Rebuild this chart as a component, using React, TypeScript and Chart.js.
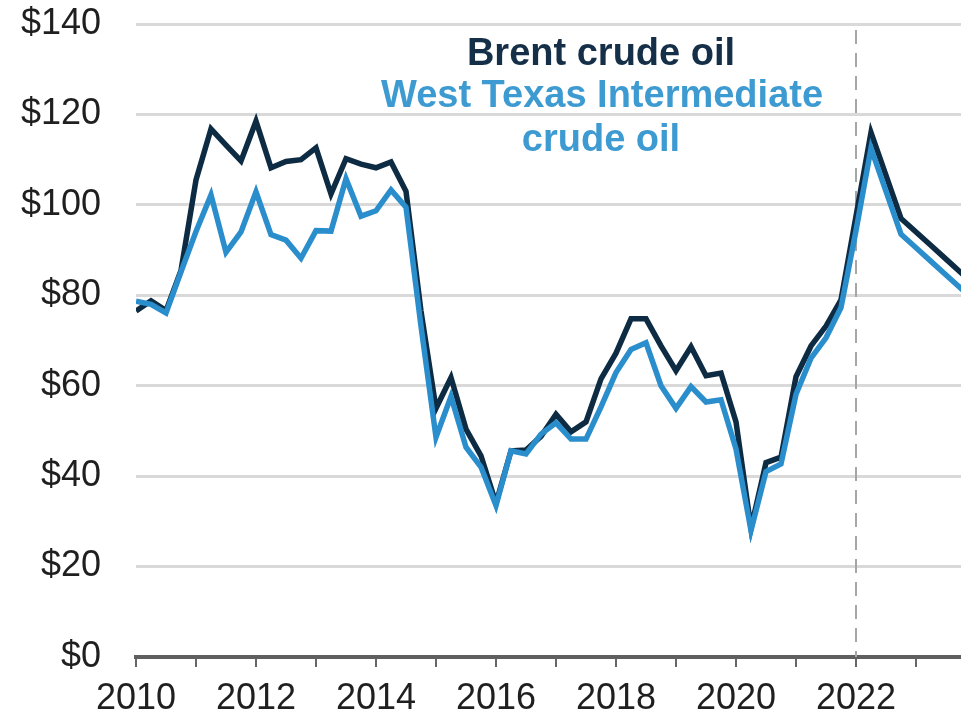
import React, { useEffect, useRef } from "react";
import { Chart, registerables } from "chart.js";

Chart.register(...registerables);

const startYear = 2010;
const quarterStep = 0.25;

const brentPrices = [
  76.5, 78.8, 76.6, 85.5,
  105.5, 116.8, 113.2, 109.7,
  118.5, 108.2, 109.6, 110.0,
  112.6, 102.4, 110.2, 109.0,
  108.2, 109.5, 103.0, 76.5,
  55.0, 61.8, 50.4, 44.5,
  34.0, 45.6, 45.8, 48.8,
  53.7, 49.8, 52.0, 61.5,
  67.2, 74.8, 74.8, 68.8,
  63.3, 68.6, 62.2, 62.8,
  52.0, 28.5, 43.0, 44.2,
  62.0, 68.8, 73.2, 79.0,
  97.5, 116.0, 106.5, 97.0,
  94.0, 91.0, 88.0, 85.0,
  82.0,
];

const wtiPrices = [
  78.7, 78.0, 76.1, 85.2,
  94.1, 102.2, 89.5, 94.0,
  102.9, 93.4, 92.2, 88.2,
  94.3, 94.2, 105.8, 97.5,
  98.7, 103.3, 99.5, 73.2,
  48.6, 57.6, 46.4, 42.0,
  33.5, 45.6, 44.9, 49.3,
  51.8, 48.2, 48.2, 55.3,
  62.9, 68.0, 69.5, 60.0,
  55.0, 59.8, 56.4, 56.9,
  46.0, 28.0, 41.0, 42.7,
  58.1, 66.1, 70.6, 77.3,
  94.3, 112.5, 103.0, 93.5,
  90.5, 87.5, 84.5, 81.5,
  78.5,
];

const yTickValues = [0, 20, 40, 60, 80, 100, 120, 140];
const xLabelYears = [2010, 2012, 2014, 2016, 2018, 2020, 2022];
const forecastYear = 2022;

const brentLabel = "Brent crude oil";
const wtiLabelLines = ["West Texas Intermediate", "crude oil"];

const FONT = "'Liberation Sans', Arial, Helvetica, sans-serif";
const BRENT_COLOR = "#0d2b42";
const WTI_COLOR = "#2a8dcc";
const BRENT_TEXT = "#142f47";
const WTI_TEXT = "#3e9bd2";

function toPoints(values: number[]) {
  return values.map((v, i) => ({ x: startYear + i * quarterStep, y: v }));
}

const overlayPlugin = {
  id: "overlay",
  beforeDatasetsDraw(chart: any) {
    const { ctx, chartArea, scales } = chart;
    const x = scales.x.getPixelForValue(forecastYear);
    ctx.save();
    ctx.strokeStyle = "#a6a6a6";
    ctx.lineWidth = 2;
    ctx.setLineDash([14, 9]);
    ctx.beginPath();
    ctx.moveTo(x, chartArea.top + 6);
    ctx.lineTo(x, chartArea.bottom);
    ctx.stroke();
    ctx.restore();
  },
  afterDraw(chart: any) {
    const { ctx } = chart;
    ctx.save();
    ctx.textAlign = "center";
    ctx.textBaseline = "alphabetic";
    ctx.font = `bold 38px ${FONT}`;
    ctx.fillStyle = BRENT_TEXT;
    ctx.fillText(brentLabel, 601, 65);
    ctx.fillStyle = WTI_TEXT;
    ctx.fillText(wtiLabelLines[0], 602, 107);
    ctx.fillText(wtiLabelLines[1], 601, 151);
    ctx.restore();
  },
};

export default function App() {
  const canvasRef = useRef<HTMLCanvasElement | null>(null);

  useEffect(() => {
    const canvas = canvasRef.current;
    if (!canvas) return;
    const chart = new Chart(canvas, {
      type: "line",
      data: {
        datasets: [
          {
            label: "West Texas Intermediate crude oil",
            data: toPoints(wtiPrices),
            borderColor: WTI_COLOR,
            borderWidth: 5.5,
            pointRadius: 0,
            tension: 0,
            fill: false,
          },
          {
            label: "Brent crude oil",
            data: toPoints(brentPrices),
            borderColor: BRENT_COLOR,
            borderWidth: 5.5,
            pointRadius: 0,
            tension: 0,
            fill: false,
          },
        ],
      },
      options: {
        responsive: false,
        animation: false,
        devicePixelRatio: 1,
        layout: { padding: { top: 24, right: 24, left: 0, bottom: 0 } },
        plugins: {
          legend: { display: false },
          tooltip: { enabled: false },
        },
        scales: {
          x: {
            type: "linear",
            min: 2010,
            max: 2024,
            afterFit: (scale: any) => {
              scale.height = 64;
              scale.paddingLeft = 0;
              scale.paddingRight = 0;
            },
            afterBuildTicks: (scale: any) => {
              const t = [];
              for (let y = 2010; y <= 2024; y++) t.push({ value: y });
              scale.ticks = t;
            },
            ticks: {
              autoSkip: false,
              maxRotation: 0,
              minRotation: 0,
              padding: 10,
              color: "#1f1f1f",
              font: { family: FONT, size: 36 },
              callback: (v: any) => (xLabelYears.includes(Number(v)) ? String(v) : ""),
            },
            grid: {
              display: true,
              drawOnChartArea: false,
              drawTicks: true,
              tickLength: 10,
              color: "#666666",
              lineWidth: 2,
            },
            border: { display: true, color: "#5f5f5f", width: 4 },
          },
          y: {
            min: 0,
            max: 140,
            afterFit: (scale: any) => {
              scale.width = 136;
              scale.paddingTop = 0;
              scale.paddingBottom = 0;
            },
            afterBuildTicks: (scale: any) => {
              scale.ticks = yTickValues.map((v) => ({ value: v }));
            },
            ticks: {
              padding: 35,
              color: "#1f1f1f",
              font: { family: FONT, size: 36 },
              callback: (v: any) => "$" + v,
            },
            grid: {
              drawTicks: false,
              color: (ctx: any) => (ctx.tick && ctx.tick.value === 0 ? "rgba(0,0,0,0)" : "#d9d9d9"),
              lineWidth: 3,
            },
            border: { display: false },
          },
        },
      },
      plugins: [overlayPlugin],
    });
    return () => chart.destroy();
  }, []);

  return (
    <div
      style={{
        position: "fixed",
        left: 0,
        top: 0,
        width: 961,
        height: 721,
        overflow: "hidden",
        background: "#ffffff",
      }}
    >
      <canvas ref={canvasRef} width={1000} height={721} style={{ display: "block" }} />
    </div>
  );
}
